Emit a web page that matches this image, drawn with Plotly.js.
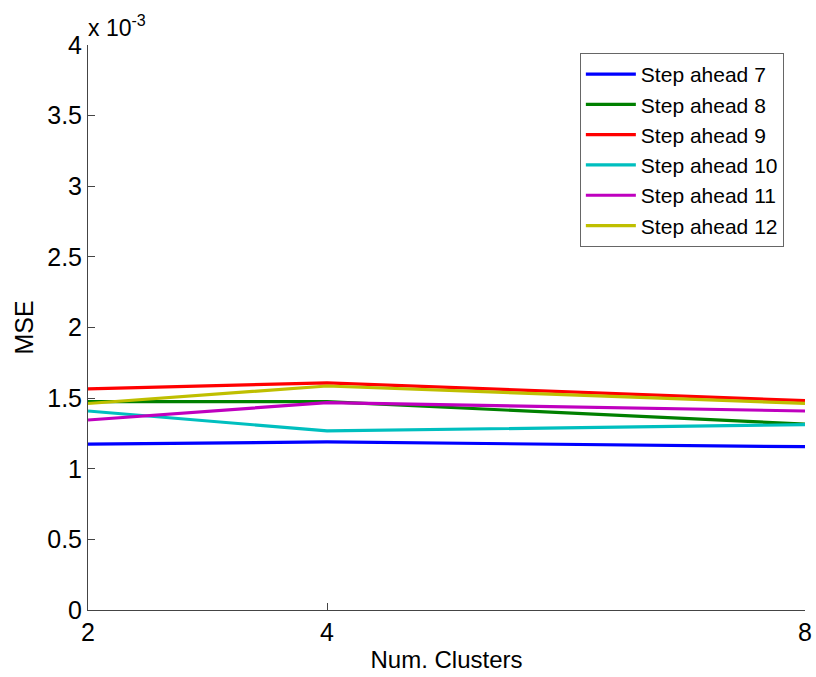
<!DOCTYPE html>
<html>
<head>
<meta charset="utf-8">
<script src="https://cdn.plot.ly/plotly-3.0.1.min.js"></script>
<style>html,body{margin:0;padding:0;background:#fff;}#chart{width:816px;height:677px;}</style>
</head>
<body>
<div id="chart"></div>
<script>
const clusters = [2, 4, 8];
const seriesNames = ["Step ahead 7", "Step ahead 8", "Step ahead 9", "Step ahead 10", "Step ahead 11", "Step ahead 12"];
const step7  = [0.001175, 0.001190, 0.001156];
const step8  = [0.001475, 0.001475, 0.001316];
const step9  = [0.001565, 0.001608, 0.001482];
const step10 = [0.001409, 0.001268, 0.001312];
const step11 = [0.001345, 0.001468, 0.001409];
const step12 = [0.001462, 0.001586, 0.001463];
const colors = ["#0000FF", "#008000", "#FF0000", "#00BFBF", "#BF00BF", "#BFBF00"];
const yTickVals = [0, 0.0005, 0.001, 0.0015, 0.002, 0.0025, 0.003, 0.0035, 0.004];
const yTickText = ["0", "0.5", "1", "1.5", "2", "2.5", "3", "3.5", "4"];

const allSeries = [step7, step8, step9, step10, step11, step12];
const traces = allSeries.map((vals, i) => ({
  x: clusters, y: vals, type: "scatter", mode: "lines",
  name: seriesNames[i], line: {color: colors[i], width: 3.2}
}));

const font = "Arial, 'Liberation Sans', Helvetica, sans-serif";
const layout = {
  width: 816, height: 677,
  margin: {l: 88, r: 11, t: 45, b: 67, pad: 0},
  paper_bgcolor: "#fff", plot_bgcolor: "#fff",
  font: {family: font, color: "#000", size: 24},
  showlegend: true,
  legend: {
    x: 0.686, y: 0.986, xanchor: "left", yanchor: "top",
    bordercolor: "#666", borderwidth: 1, bgcolor: "#fff",
    font: {family: font, size: 21, color: "#000"},
    itemwidth: 50,
    tracegroupgap: 0
  },
  xaxis: {
    range: [2, 8], tickvals: clusters, ticktext: ["2", "4", "8"],
    showgrid: false, zeroline: false, showline: true, linecolor: "#444", linewidth: 1,
    ticks: "inside", ticklen: 7, tickcolor: "#444",
    tickfont: {size: 25}, automargin: false,
    title: {text: "Num. Clusters", font: {size: 24}, standoff: 6}
  },
  yaxis: {
    range: [0, 0.004], tickvals: yTickVals, ticktext: yTickText,
    showgrid: false, zeroline: false, showline: true, linecolor: "#444", linewidth: 1,
    ticks: "inside", ticklen: 7, tickcolor: "#444",
    tickfont: {size: 25}, automargin: false,
    title: {text: "MSE", font: {size: 25}, standoff: 6}
  },
  annotations: [{
    xref: "paper", yref: "paper", x: 0, y: 1, xanchor: "left", yanchor: "bottom",
    text: "x 10<sup>-3</sup>", showarrow: false, xshift: -2, yshift: 2,
    font: {size: 23, color: "#000"}
  }]
};
Plotly.newPlot("chart", traces, layout, {displayModeBar: false, staticPlot: true});
</script>
</body>
</html>
